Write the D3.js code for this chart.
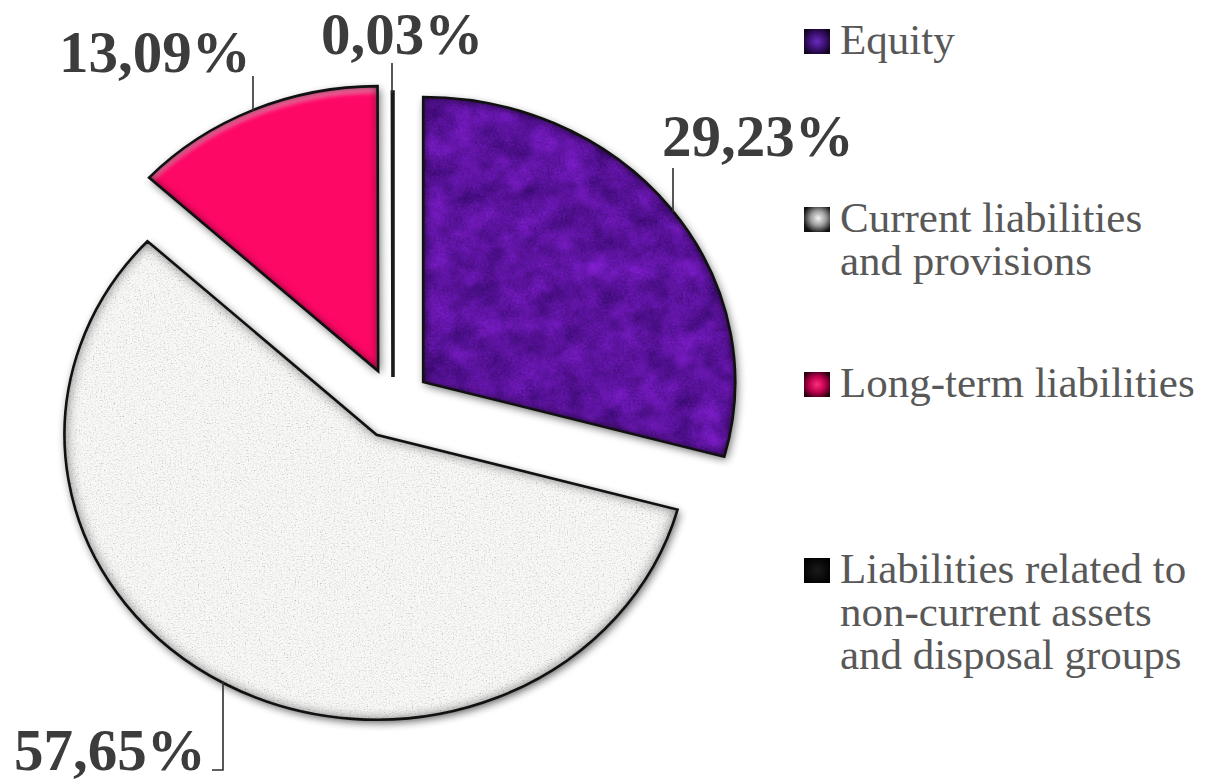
<!DOCTYPE html>
<html>
<head>
<meta charset="utf-8">
<script src="https://cdn.jsdelivr.net/npm/d3@7"></script>
<style>
  html, body { margin: 0; padding: 0; background: #fff; }
  svg { display: block; }
</style>
</head>
<body>
<svg id="chart" width="1211" height="784"></svg>
<script>
// Structure of liabilities and equity (%)
const categories = [
  "Equity",
  "Current liabilities and provisions",
  "Long-term liabilities",
  "Liabilities related to non-current assets and disposal groups"
];
const shares = [29.23, 57.65, 13.09, 0.03];
const legendLines = [
  ["Equity"],
  ["Current liabilities", "and provisions"],
  ["Long-term liabilities"],
  ["Liabilities related to", "non-current assets", "and disposal groups"]
];

// Layout
const W = 1211, H = 784;
const cx = 393, cy = 405;        // pie centre
const RX = 312, RY = 285;        // pie is slightly wider than tall
const explode = [38, 34, 37, 28];
const fillIds = ["fx-equity", "fx-current", "fx-long", null];
const baseFill = ["#5a169c", "#f6f6f6", "#fe0866", "#000"];
const swatchFill = ["url(#sw-equity)", "url(#sw-current)", "url(#sw-long)", "url(#sw-black)"];

// Value label placement (text start x, baseline y) and leader-line settings
const labelLayout = [
  { x: 662, y: 156, lx: 673, ly: 168, side: "top" },
  { x: 14,  y: 770, lx: 223, ly: 770, side: "bottom", foot: 212 },
  { x: 59,  y: 72,  lx: 253, ly: 76,  side: "top" },
  { x: 321, y: 54,  lx: 392, ly: 63,  side: "top" }
];
const legendLayout = { x: 804, textX: 840, size: 25, lineGap: 43, baselines: [54, 232, 397, 583] };

const fmt = v => d3.format(".2f")(v).replace(".", ",") + "%";

const svg = d3.select("#chart");
svg.append("rect").attr("width", W).attr("height", H).attr("fill", "#fff");

const defs = svg.append("defs");
defs.html(`
  <filter id="fx-equity" x="-10%" y="-10%" width="125%" height="125%" color-interpolation-filters="sRGB">
    <feTurbulence type="fractalNoise" baseFrequency="0.04" numOctaves="4" seed="7" result="n"/>
    <feTurbulence type="fractalNoise" baseFrequency="0.5" numOctaves="1" seed="3" result="n2"/>
    <feComposite in="n" in2="n2" operator="arithmetic" k1="0" k2="0.7" k3="0.3" k4="0" result="nn"/>
    <feColorMatrix in="nn" type="matrix" values="
      0.45 0 0 0 0.135
      0.13 0 0 0 0.01
      0.6 0 0 0 0.32
      0 0 0 0 1" result="tint"/>
    <feComposite in="tint" in2="SourceAlpha" operator="in" result="tex"/>
    <feGaussianBlur in="SourceAlpha" stdDeviation="5" result="ab"/>
    <feComposite in="SourceAlpha" in2="ab" operator="out" result="edge"/>
    <feFlood flood-color="#000" flood-opacity="0.8"/>
    <feComposite in2="edge" operator="in" result="inner"/>
    <feGaussianBlur in="SourceAlpha" stdDeviation="4.5" result="sb"/>
    <feOffset in="sb" dx="2" dy="3" result="so"/>
    <feComponentTransfer in="so" result="drop"><feFuncA type="linear" slope="0.6"/></feComponentTransfer>
    <feMerge><feMergeNode in="drop"/><feMergeNode in="tex"/><feMergeNode in="inner"/></feMerge>
  </filter>

  <filter id="fx-current" x="-10%" y="-10%" width="125%" height="125%" color-interpolation-filters="sRGB">
    <feTurbulence type="fractalNoise" baseFrequency="0.7" numOctaves="2" seed="11" result="n"/>
    <feColorMatrix in="n" type="matrix" values="
      1 0 0 0 0
      1 0 0 0 0
      1 0 0 0 0
      0 0 0 0 1" result="g"/>
    <feComponentTransfer in="g" result="spk">
      <feFuncR type="table" tableValues="0.98 0.98 0.97 0.87 0.64"/>
      <feFuncG type="table" tableValues="0.98 0.98 0.97 0.87 0.64"/>
      <feFuncB type="table" tableValues="0.975 0.975 0.965 0.86 0.62"/>
    </feComponentTransfer>
    <feComposite in="spk" in2="SourceAlpha" operator="in" result="tex"/>
    <feGaussianBlur in="SourceAlpha" stdDeviation="6" result="ab"/>
    <feComposite in="SourceAlpha" in2="ab" operator="out" result="edge"/>
    <feFlood flood-color="#000" flood-opacity="0.6"/>
    <feComposite in2="edge" operator="in" result="inner"/>
    <feGaussianBlur in="SourceAlpha" stdDeviation="4.5" result="sb"/>
    <feOffset in="sb" dx="2" dy="3" result="so"/>
    <feComponentTransfer in="so" result="drop"><feFuncA type="linear" slope="0.65"/></feComponentTransfer>
    <feMerge><feMergeNode in="drop"/><feMergeNode in="tex"/><feMergeNode in="inner"/></feMerge>
  </filter>

  <filter id="fx-long" x="-10%" y="-10%" width="125%" height="125%" color-interpolation-filters="sRGB">
    <feGaussianBlur in="SourceAlpha" stdDeviation="2" result="hb"/>
    <feOffset in="hb" dx="0" dy="7" result="ho"/>
    <feComposite in="SourceAlpha" in2="ho" operator="out" result="hedge"/>
    <feFlood flood-color="#fff" flood-opacity="0.4"/>
    <feComposite in2="hedge" operator="in" result="hl"/>
    <feGaussianBlur in="SourceAlpha" stdDeviation="4" result="ab"/>
    <feComposite in="SourceAlpha" in2="ab" operator="out" result="edge"/>
    <feFlood flood-color="#000" flood-opacity="0.7"/>
    <feComposite in2="edge" operator="in" result="inner"/>
    <feGaussianBlur in="SourceAlpha" stdDeviation="4.5" result="sb"/>
    <feOffset in="sb" dx="2" dy="3" result="so"/>
    <feComponentTransfer in="so" result="drop"><feFuncA type="linear" slope="0.6"/></feComponentTransfer>
    <feMerge><feMergeNode in="drop"/><feMergeNode in="SourceGraphic"/><feMergeNode in="hl"/><feMergeNode in="inner"/></feMerge>
  </filter>

  <radialGradient id="sw-equity" cx="50%" cy="50%" r="60%">
    <stop offset="0%" stop-color="#6a2cbc"/><stop offset="55%" stop-color="#3a1070"/><stop offset="100%" stop-color="#12031f"/>
  </radialGradient>
  <radialGradient id="sw-current" cx="55%" cy="45%" r="60%">
    <stop offset="0%" stop-color="#f4f4f4"/><stop offset="50%" stop-color="#9a9a9a"/><stop offset="100%" stop-color="#111"/>
  </radialGradient>
  <radialGradient id="sw-long" cx="50%" cy="50%" r="60%">
    <stop offset="0%" stop-color="#ff2c7c"/><stop offset="55%" stop-color="#b8004a"/><stop offset="100%" stop-color="#2a000e"/>
  </radialGradient>
  <radialGradient id="sw-black" cx="50%" cy="50%" r="60%">
    <stop offset="0%" stop-color="#1a1a1a"/><stop offset="100%" stop-color="#000"/>
  </radialGradient>
`);

// Pie geometry
const pie = d3.pie().sort(null).value(d => d).startAngle(0).endAngle(2 * Math.PI);
const arcs = pie(shares);
const arcGen = d3.arc().innerRadius(0).outerRadius(RY);

const apex = arcs.map((a, i) => {
  const mid = (a.startAngle + a.endAngle) / 2;
  return [cx + explode[i] * Math.sin(mid), cy - explode[i] * Math.cos(mid)];
});

const pieG = svg.append("g");
arcs.forEach((a, i) => {
  const g = pieG.append("g")
    .attr("transform", `translate(${apex[i][0]},${apex[i][1]}) scale(${RX / RY},1)`);
  if (fillIds[i]) {
    g.append("path")
      .attr("d", arcGen(a))
      .attr("fill", baseFill[i])
      .attr("filter", `url(#${fillIds[i]})`);
    g.append("path")
      .attr("d", arcGen(a))
      .attr("fill", "none")
      .attr("stroke", "#111")
      .attr("stroke-width", 2.6)
      .attr("stroke-linejoin", "miter")
      .attr("vector-effect", "non-scaling-stroke");
  } else {
    // the tiny slice is drawn as a dark sliver
    g.append("path")
      .attr("d", arcGen(a))
      .attr("fill", baseFill[i])
      .attr("stroke", "#1a1a1a")
      .attr("stroke-width", 3.6)
      .attr("vector-effect", "non-scaling-stroke");
  }
});

// Point on a slice's outer edge at a given x
function edgeY(i, x, side) {
  const s = Math.max(-1, Math.min(1, (x - apex[i][0]) / RX));
  const c = Math.sqrt(1 - s * s);
  return side === "bottom" ? apex[i][1] + RY * c : apex[i][1] - RY * c;
}

// Leader lines and value labels
const labelG = svg.append("g");
arcs.forEach((a, i) => {
  const L = labelLayout[i];
  const yEdge = edgeY(i, L.lx, L.side) + (L.side === "bottom" ? -1 : 1);
  let pts;
  if (L.side === "bottom") {
    pts = [[L.lx, yEdge], [L.lx, L.ly], [L.foot, L.ly]];
  } else {
    pts = [[L.lx, L.ly], [L.lx, yEdge]];
  }
  labelG.append("path")
    .attr("d", d3.line()(pts))
    .attr("fill", "none")
    .attr("stroke", "#2e2e2e")
    .attr("stroke-width", 1.6);
  labelG.append("text")
    .attr("x", L.x)
    .attr("y", L.y)
    .attr("font-family", "'Liberation Serif', 'Times New Roman', serif")
    .attr("font-weight", "bold")
    .attr("font-size", 59)
    .attr("fill", "#3c3c3c")
    .text(fmt(shares[i]));
});

// Legend
const legG = svg.append("g");
categories.forEach((c, i) => {
  const by = legendLayout.baselines[i];
  legG.append("rect")
    .attr("x", legendLayout.x)
    .attr("y", by - legendLayout.size)
    .attr("width", legendLayout.size + 1)
    .attr("height", legendLayout.size)
    .attr("fill", swatchFill[i]);
  const t = legG.append("text")
    .attr("font-family", "'Liberation Serif', 'Times New Roman', serif")
    .attr("font-size", 43)
    .attr("fill", "#585858");
  legendLines[i].forEach((line, k) => {
    t.append("tspan")
      .attr("x", legendLayout.textX)
      .attr("y", by + k * legendLayout.lineGap)
      .text(line);
  });
});
</script>
</body>
</html>
